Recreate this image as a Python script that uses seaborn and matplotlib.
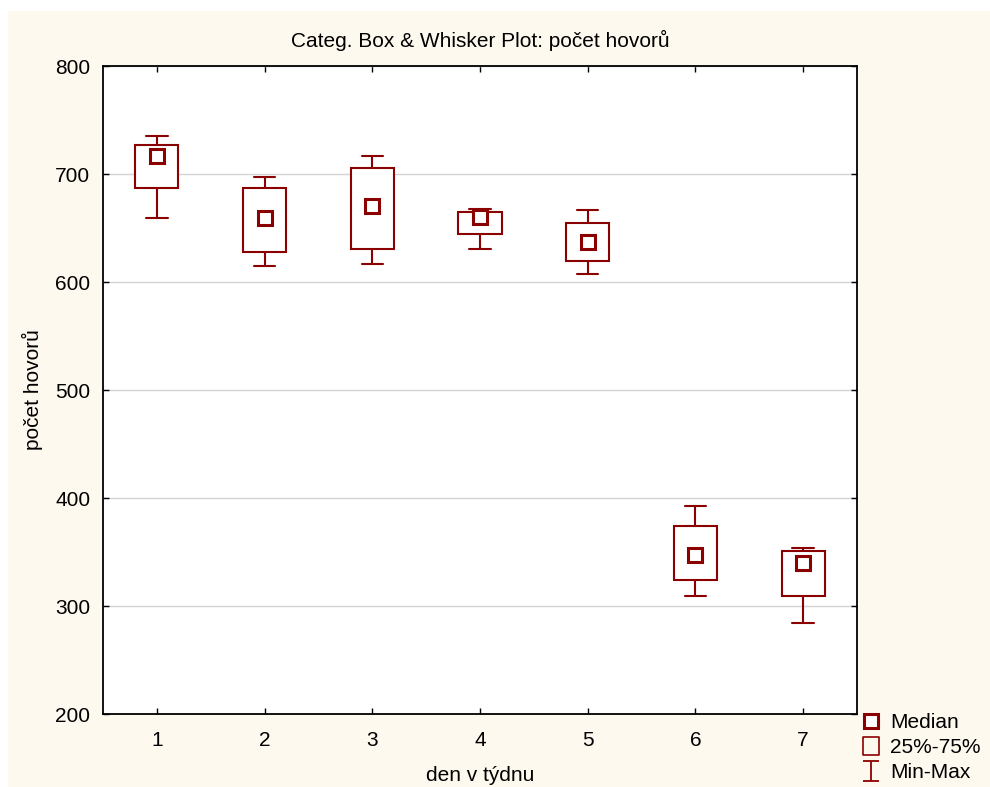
import pandas
import matplotlib
matplotlib.use("Agg")
import matplotlib.pyplot as plt
from matplotlib.lines import Line2D
from matplotlib.patches import Rectangle
from matplotlib.path import Path
import seaborn as sns

# five-number summary per weekday
days = ["1", "2", "3", "4", "5", "6", "7"]
mins = [659, 615, 617, 631, 607, 309, 284]
q1s = [687, 628, 631, 644, 619, 324, 309]
medians = [717, 659, 670, 660, 637, 347, 340]
q3s = [727, 687, 706, 665, 655, 374, 351]
maxs = [735, 697, 717, 668, 667, 393, 354]

rows = []
for d, a, b, c, e, f in zip(days, mins, q1s, medians, q3s, maxs):
    for v in (a, b, c, e, f):
        rows.append({"den v týdnu": d, "počet hovorů": v})
df = pandas.DataFrame(rows)

sns.set_style("white")
plt.rcParams["font.family"] = ["Liberation Sans", "DejaVu Sans"]
plt.rcParams["text.color"] = "black"
plt.rcParams["axes.labelcolor"] = "black"

red = "#8B0000"
cream = "#FEF9EF"

fig = plt.figure(figsize=(9.9, 7.87), dpi=100, facecolor="white")
fig.patches.append(Rectangle((8 / 990, 0), 1, 1 - 11 / 787, transform=fig.transFigure,
                             facecolor=cream, edgecolor="none", zorder=-10))
ax = fig.add_axes([103 / 990, 1 - 714 / 787, 754 / 990, 648 / 787])
ax.set_facecolor("white")

line_kw = dict(color=red, linewidth=1.5)
sns.boxplot(data=df, x="den v týdnu", y="počet hovorů", order=days, whis=(0, 100),
            width=0.4, ax=ax, showfliers=False,
            boxprops=dict(facecolor="white", edgecolor=red, linewidth=1.5),
            whiskerprops=line_kw, capprops=line_kw,
            medianprops=dict(visible=False))
sns.pointplot(x=days, y=medians, order=days, ax=ax, color=red, errorbar=None,
              marker="s", linestyle="none", markersize=9.5, markeredgewidth=2.2,
              markerfacecolor="white", markeredgecolor=red, zorder=5)

ax.set_xlim(-0.5, 6.5)
ax.set_ylim(200, 800)
ax.set_yticks([200, 300, 400, 500, 600, 700, 800])
ax.yaxis.grid(True, color="#D4D4D4", linewidth=1)
ax.set_axisbelow(True)
for s in ax.spines.values():
    s.set_visible(True)
    s.set_color("black")
    s.set_linewidth(1.3)
ax.tick_params(axis="both", direction="in", length=4, width=1, labelsize=15,
               colors="black", top=True, right=True, bottom=True, left=True)
ax.tick_params(axis="x", pad=12)
ax.tick_params(axis="y", pad=9)
ax.set_xlabel("den v týdnu", fontsize=15, labelpad=12)
ax.set_ylabel("počet hovorů", fontsize=15, labelpad=9)
ax.set_title("Categ. Box & Whisker Plot: počet hovorů", fontsize=15, pad=14)

# legend with statistica-like symbols
imark = Path([(-0.8, 1), (0.8, 1), (0, 1), (0, -1), (-0.8, -1), (0.8, -1)],
             [Path.MOVETO, Path.LINETO, Path.MOVETO, Path.LINETO, Path.MOVETO, Path.LINETO])
boxmark = Path([(-0.9, -1), (0.9, -1), (0.9, 1), (-0.9, 1), (-0.9, -1)],
               [Path.MOVETO, Path.LINETO, Path.LINETO, Path.LINETO, Path.CLOSEPOLY])
handles = [
    Line2D([], [], linestyle="none", marker="s", markersize=9.5, markeredgewidth=2.2,
           markerfacecolor="white", markeredgecolor=red),
    Line2D([], [], linestyle="none", marker=boxmark, markersize=13, markeredgewidth=1.2,
           markerfacecolor="none", markeredgecolor=red),
    Line2D([], [], linestyle="none", marker=imark, markersize=14, markeredgewidth=1.3,
           markerfacecolor="none", markeredgecolor=red),
]
fig.legend(handles, ["Median", "25%-75%", "Min-Max"], loc="upper left",
           bbox_to_anchor=(861 / 990, 1 - 713 / 787), frameon=False, fontsize=15,
           handlelength=1.0, handletextpad=0.4, labelspacing=0.3, borderpad=0,
           borderaxespad=0)

fig.savefig("out.png", dpi=100, facecolor=fig.get_facecolor())
